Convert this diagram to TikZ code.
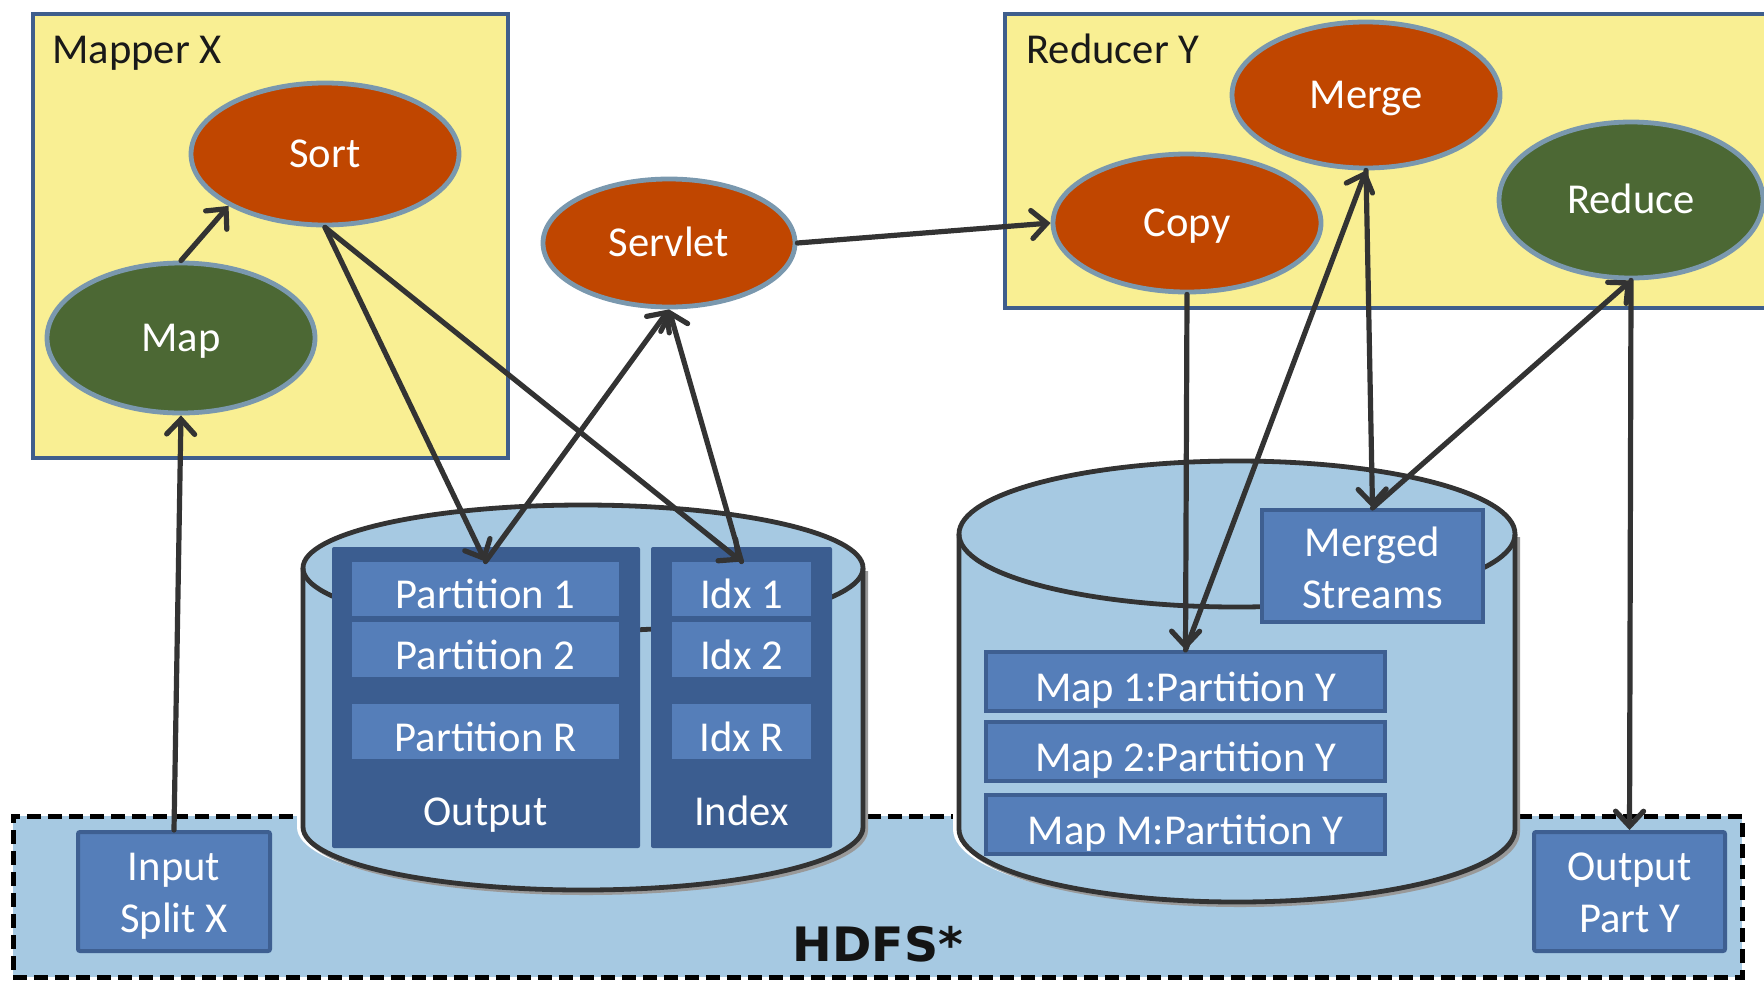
\documentclass[tikz,border=0pt]{standalone}
\usepackage{fontspec}
\setmainfont{Carlito}
\newfontfamily\hdfsfont{DejaVu Sans}
\usetikzlibrary{arrows.meta,shapes.geometric}
\definecolor{yel}{HTML}{F9EF93}
\definecolor{framec}{HTML}{3F5E8C}
\definecolor{orng}{HTML}{C04600}
\definecolor{grn}{HTML}{4C6834}
\definecolor{ellb}{HTML}{7A98AE}
\definecolor{lblue}{HTML}{A6C9E2}
\definecolor{dblue}{HTML}{3B5D90}
\definecolor{mblue}{HTML}{557EB9}
\definecolor{bbord}{HTML}{3E5F91}
\definecolor{arr}{HTML}{333333}
\newcommand\lblfont{\fontsize{21.3pt}{26pt}\selectfont}
\begin{document}
\begin{tikzpicture}[x=0.5pt,y=-0.5pt,
  proc/.style={ellipse, draw=ellb, line width=2.4pt, inner sep=0pt, text=white, font=\lblfont, text height=13.3pt, text depth=0pt},
  oproc/.style={proc, fill=orng},
  gproc/.style={proc, fill=grn},
  frambox/.style={rectangle, fill=yel, draw=framec, line width=2.4pt, inner sep=0pt},
  darkbox/.style={rectangle, fill=dblue, inner sep=0pt, rounded corners=1pt},
  part/.style={rectangle, fill=mblue, inner sep=0pt, text=white, font=\lblfont, text height=19.5pt, text depth=0pt},
  mbox/.style={rectangle, fill=mblue, draw=bbord, line width=2pt, inner sep=0pt, text=white, font=\lblfont},
  single/.style={text height=20pt, text depth=0pt},
  title/.style={anchor=west, inner sep=0pt, font=\lblfont, text=black!90, text height=13.3pt, text depth=0pt},
  inlbl/.style={inner sep=0pt, font=\lblfont, text=white, text height=13.3pt, text depth=0pt},
  cyl/.style={draw=arr, line width=2.4pt},
  conn/.style={draw=arr, line width=2.6pt, line cap=round, -{Straight Barb[length=7.5pt,width=14pt,line cap=round]}},
  hdfsbox/.style={rectangle, fill=lblue, draw=black, line width=2.5pt, dash pattern=on 7pt off 3.5pt, inner sep=0pt}
]
\useasboundingbox (0,0) rectangle (1764,980);
\clip (0,0) rectangle (1764,980);

% HDFS region
\node[hdfsbox, minimum width=864.5pt, minimum height=80.5pt] (hdfs) at (877.5,896.5) {};
\node[anchor=base, inner sep=0pt, font=\hdfsfont\bfseries\fontsize{23.7pt}{28pt}\selectfont, text=black!92] (hdfslbl) at (878,961) {HDFS*};

% containers
\node[frambox, minimum width=237.5pt, minimum height=222pt] (mapper) at (270.5,236) {};
\node[title] (mapperlbl) at (52,50) {Mapper X};
\node[frambox, minimum width=397.5pt, minimum height=147pt] (reducer) at (1402.5,161) {};
\node[title] (reducerlbl) at (1026,50) {Reducer Y};

% left cylinder
\draw[white, line width=3pt] (300,568) -- (300,827) arc[start angle=180,end angle=90,x radius=280,y radius=63];
\draw[black!40, line width=2pt] (306,830) arc[start angle=180,end angle=0,x radius=280,y radius=63] -- (866,571);
\fill[lblue] (303,568) -- (303,827) arc[start angle=180,end angle=0,x radius=280,y radius=63] -- (863,568) -- cycle;
\fill[lblue] (583,568) ellipse[x radius=280,y radius=63];
\draw[cyl] (303,568) -- (303,827) arc[start angle=180,end angle=0,x radius=280,y radius=63] -- (863,568);
\draw[cyl] (583,568) ellipse[x radius=280,y radius=63];

% right cylinder
\draw[white, line width=3pt] (956,534) -- (956,829) arc[start angle=180,end angle=90,x radius=278,y radius=73];
\draw[black!40, line width=2pt] (962,832) arc[start angle=180,end angle=0,x radius=278,y radius=73] -- (1518,537);
\fill[lblue] (959,534) -- (959,829) arc[start angle=180,end angle=0,x radius=278,y radius=73] -- (1515,534) -- cycle;
\fill[lblue] (1237,534) ellipse[x radius=278,y radius=73];
\draw[cyl] (959,534) -- (959,829) arc[start angle=180,end angle=0,x radius=278,y radius=73] -- (1515,534);
\draw[cyl] (1237,534) ellipse[x radius=278,y radius=73];

% map output file
\node[darkbox, minimum width=154pt, minimum height=150.5pt] (outfile) at (486,697.5) {};
\node[darkbox, minimum width=90.5pt, minimum height=150.5pt] (idxfile) at (741.5,697.5) {};
\node[part, minimum width=133.5pt, minimum height=27pt] (p1) at (485.5,589) {Partition 1};
\node[part, minimum width=133.5pt, minimum height=27.5pt] (p2) at (485.5,649.5) {Partition 2};
\node[part, minimum width=133.5pt, minimum height=27.5pt] (pR) at (485.5,731.5) {Partition R};
\node[part, minimum width=69.5pt, minimum height=27pt] (i1) at (741.5,589) {Idx 1};
\node[part, minimum width=69.5pt, minimum height=27.5pt] (i2) at (741.5,649.5) {Idx 2};
\node[part, minimum width=69.5pt, minimum height=27.5pt] (iR) at (741.5,731.5) {Idx R};
\node[inlbl] (outlbl) at (485.5,812.5) {Output};
\node[inlbl] (idxlbl) at (741.5,812.5) {Index};

% reducer disk
\node[mbox, align=center, minimum width=110.5pt, minimum height=56pt] (merged) at (1372.5,566) {\rule{0pt}{16.5pt}Merged\\Streams};
\node[mbox, single, minimum width=199.5pt, minimum height=29.5pt] (map1) at (1185.5,681.5) {Map 1:Partition Y};
\node[mbox, single, minimum width=199.5pt, minimum height=29.5pt] (map2) at (1185.5,751.5) {Map 2:Partition Y};
\node[mbox, single, minimum width=199.5pt, minimum height=29.5pt] (mapM) at (1185.5,824.5) {Map M:Partition Y};

% HDFS files
\node[mbox, align=center, rounded corners=1pt, minimum width=96pt, minimum height=59.5pt] (input) at (174,891.5) {\rule{0pt}{18pt}Input\\Split X};
\node[mbox, align=center, rounded corners=1pt, minimum width=95.5pt, minimum height=59.5pt] (outy) at (1629.5,891.5) {\rule{0pt}{15.5pt}Output\\Part Y};

% processes
\node[oproc, minimum width=134pt, minimum height=71pt] (sort) at (325,154) {Sort};
\node[gproc, minimum width=134pt, minimum height=75pt] (map) at (181,338) {Map};
\node[oproc, minimum width=126pt, minimum height=64pt] (servlet) at (669,243) {Servlet};
\node[oproc, minimum width=134pt, minimum height=73pt] (merge) at (1366,95) {Merge};
\node[oproc, minimum width=134pt, minimum height=69pt] (copy) at (1187,223) {Copy};
\node[gproc, minimum width=132pt, minimum height=78pt] (reduce) at (1631,200) {Reduce};

% connectors
\draw[conn] (input.north) -- (map.south);
\draw[conn] (map.north) -- (sort.south west);
\draw[conn] (sort.south) -- (p1.north);
\draw[conn] (sort.south) -- (i1.north);
\draw[conn] (p1.north) -- (servlet.south);
\draw[conn] (i1.north) -- (servlet.south);
\draw[conn] (servlet.east) -- (copy.west);
\draw[conn] (copy.south) -- (map1.north);
\draw[conn] (map1.north) -- (merge.south);
\draw[conn] (merge.south) -- (merged.north);
\draw[conn] (merged.north) -- (reduce.south);
\draw[conn] (reduce.south) -- (outy.north);
\end{tikzpicture}
\end{document}
